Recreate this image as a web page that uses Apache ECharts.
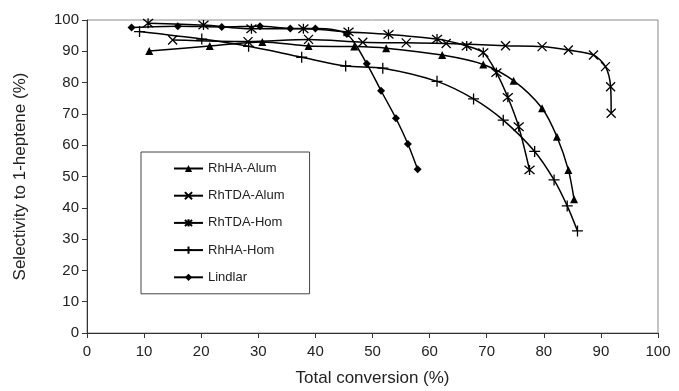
<!DOCTYPE html>
<html>
<head>
<meta charset="utf-8">
<script src="https://cdn.jsdelivr.net/npm/echarts@6/dist/echarts.min.js"></script>
<style>
  html, body { margin: 0; padding: 0; background: #fff; }
  #chart { width: 679px; height: 391px; }
</style>
</head>
<body>
<div id="chart"></div>
<script>
// data: [total conversion %, selectivity %]
const rhhaAlum = [[10.9, 90.1], [21.5, 91.7], [30.7, 93.0], [38.8, 91.7], [46.8, 91.5], [52.4, 91.0], [62.2, 88.8], [69.4, 85.8], [74.7, 80.6], [79.7, 71.8], [82.3, 62.7], [84.3, 52.1], [85.3, 42.7]]
const rhtdaAlum = [[15.0, 93.6], [28.2, 93.1], [38.8, 93.8], [48.3, 92.9], [55.9, 92.7], [62.9, 92.5], [73.3, 91.8], [79.7, 91.5], [84.3, 90.4], [88.7, 88.8], [90.8, 85.1], [91.7, 78.7], [91.8, 70.2]]
const rhtdaHom = [[10.7, 99.0], [20.4, 98.4], [28.8, 97.2], [37.9, 97.2], [45.8, 96.2], [52.8, 95.4], [61.3, 93.9], [66.5, 91.7], [69.4, 89.6], [71.7, 83.2], [73.7, 75.3], [75.6, 65.9], [77.5, 52.1]]
const rhhaHom = [[9.2, 96.3], [20.1, 93.9], [28.3, 91.6], [37.6, 88.1], [45.3, 85.3], [51.8, 84.6], [61.3, 80.4], [67.7, 74.8], [72.9, 68.0], [78.4, 58.0], [81.8, 48.9], [84.1, 40.6], [85.9, 32.6]]
const lindlar = [[7.8, 97.6], [15.9, 98.0], [23.6, 97.8], [30.3, 98.0], [35.6, 97.3], [40.0, 97.3], [45.5, 95.5], [49.0, 86.0], [51.5, 77.4], [54.1, 68.6], [56.2, 60.4], [57.9, 52.3]]

const seriesNames = ['RhHA-Alum', 'RhTDA-Alum', 'RhTDA-Hom', 'RhHA-Hom', 'Lindlar']
const seriesData = [rhhaAlum, rhtdaAlum, rhtdaHom, rhhaHom, lindlar]

// marker shapes (x / asterisk / plus are stroked paths)
const markers = [
  { symbol: 'triangle', size: 8 },
  { symbol: 'path://M0,0L10,10M10,0L0,10', size: 9 },
  { symbol: 'path://M0,0L10,10M10,0L0,10M5,-1L5,11', size: 10 },
  { symbol: 'path://M5,0L5,10M0,5L10,5', size: 11 },
  { symbol: 'diamond', size: 8 }
]

const font = 'Liberation Sans, Arial, sans-serif'

let myChart = echarts.init(document.getElementById('chart'))
let option = {
  animation: false,
  backgroundColor: '#fff',
  grid: {
    left: 87,
    right: 21,
    top: 20,
    bottom: 58,
    outerBoundsMode: 'none',
    show: true,
    borderColor: '#8a8a8a',
    borderWidth: 1
  },
  legend: {
    orient: 'vertical',
    left: 141,
    top: 152,
    data: seriesNames,
    itemWidth: 29,
    itemHeight: 9,
    itemGap: 14.2,
    padding: [10, 25, 10, 32],
    borderColor: '#444',
    borderWidth: 1,
    textStyle: { fontFamily: font, fontSize: 13, color: '#222' }
  },
  xAxis: {
    type: 'value',
    min: 0,
    max: 100,
    interval: 10,
    name: 'Total conversion (%)',
    nameLocation: 'middle',
    nameGap: 37,
    nameTextStyle: { fontFamily: font, fontSize: 17, color: '#222' },
    axisLine: { onZero: false, lineStyle: { color: '#333', width: 1 } },
    axisTick: { length: 5, lineStyle: { color: '#333' } },
    axisLabel: { margin: 11, fontFamily: font, fontSize: 15, color: '#222' },
    splitLine: { show: false }
  },
  yAxis: {
    type: 'value',
    min: 0,
    max: 100,
    interval: 10,
    name: 'Selectivity to 1-heptene (%)',
    nameLocation: 'middle',
    nameGap: 58,
    nameTextStyle: { fontFamily: font, fontSize: 17, color: '#222' },
    axisLine: { show: true, onZero: false, lineStyle: { color: '#333', width: 1 } },
    axisTick: { show: true, length: 5, lineStyle: { color: '#333' } },
    axisLabel: { margin: 8, fontFamily: font, fontSize: 15, color: '#222' },
    splitLine: { show: false }
  },
  series: seriesData.map((d, i) => {
    return {
      name: seriesNames[i],
      type: 'line',
      data: d,
      smooth: 0.3,
      symbol: markers[i].symbol,
      symbolSize: markers[i].size,
      showAllSymbol: true,
      lineStyle: { color: '#000', width: 1.5 },
      itemStyle: { color: '#000', borderColor: '#000', borderWidth: i === 0 || i === 4 ? 0 : 1.3 }
    }
  })
}
option && myChart.setOption(option)
</script>
</body>
</html>
